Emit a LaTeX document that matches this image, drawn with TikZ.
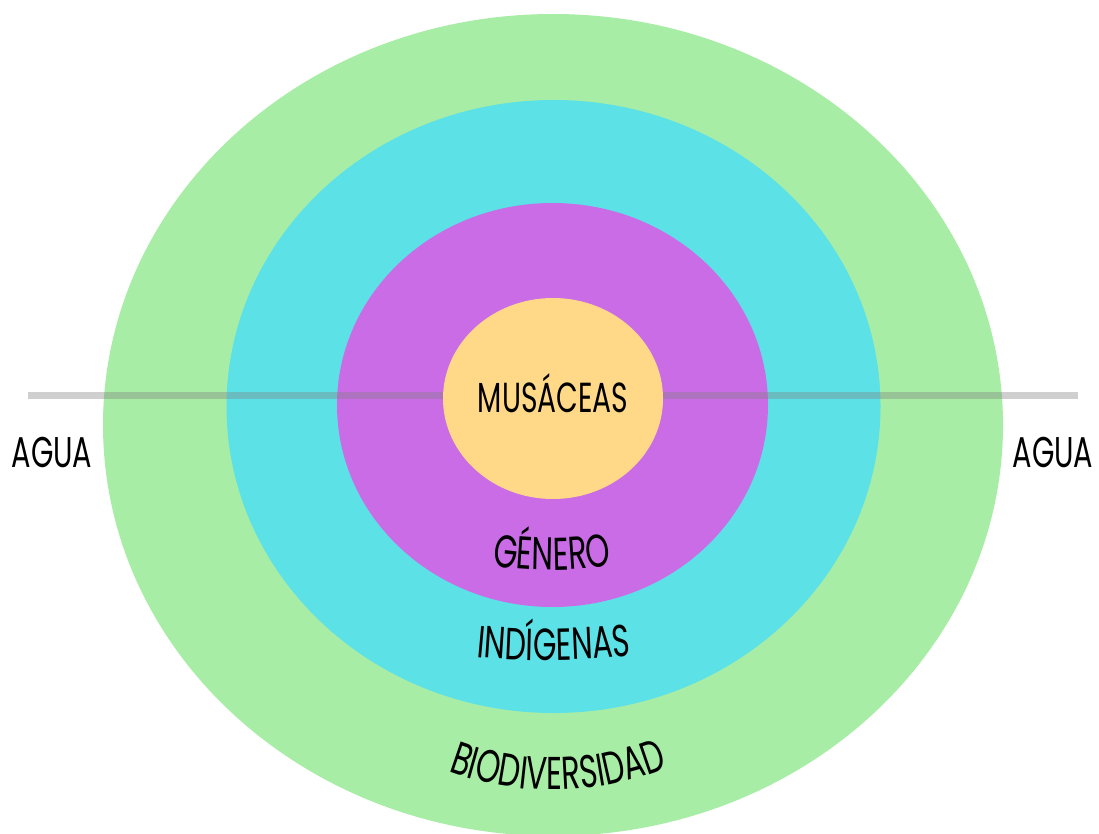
\documentclass[tikz,border=0pt]{standalone}
\usepackage{fontspec}
\usepackage{graphicx}
\newfontfamily\arcfont{Poppins}
\newcommand{\arcglyph}[2]{\scalebox{0.67}[1]{\arcfont\fontsize{#1}{#1}\selectfont #2}}
% letters chained one after another, each turned a little more:
% #1 name, #2 start point, #3 first angle, #4 step, #5 size, #6 letters
\newcommand{\arclabel}[6]{%
  \node[arcstart] (#1-0) at #2 {};
  \foreach \ch [count=\idx, remember=\idx as \prev (initially 0)] in {#6}{%
    \pgfmathsetmacro{\ang}{#3+(\idx-0.5)*#4}%
    \node[arcchar,rotate=\ang] (#1-\idx) at (#1-\prev.base east) {\arcglyph{#5}{\ch}};}%
}

\definecolor{ringgreen}{RGB}{168,237,165}
\definecolor{ringcyan}{RGB}{92,225,230}
\definecolor{ringpurple}{RGB}{201,108,230}
\definecolor{ringyellow}{RGB}{255,217,135}

\begin{document}
\begin{tikzpicture}[
  x=1pt,y=-1pt,
  lab/.style={inner sep=0pt,anchor=base},
  arcstart/.style={inner sep=0pt,outer sep=0pt,minimum size=0pt,anchor=base east},
  arcchar/.style={inner sep=0pt,outer sep=0pt,anchor=base west},
  waterline/.style={line width=7pt,draw=gray,draw opacity=0.38}
]
\useasboundingbox (0,0) rectangle (1099,834);
% rings
\fill[ringgreen]  (553,425) ellipse [x radius=450,y radius=411];
\fill[ringcyan]   (553.5,406.5) ellipse [x radius=327,y radius=306.5];
\fill[ringpurple] (552.5,405) ellipse [x radius=215.5,y radius=202];
% water line
\coordinate (wl) at (28,395);
\coordinate (wr) at (1078,395);
\draw[waterline] (wl) -- (wr);
\fill[ringyellow] (553,398.5) ellipse [x radius=110,y radius=100.5];
% labels
\node[lab] (musaceas) at (553,412) {\arcglyph{42}{MUSÁCEAS}};
\node[lab] (agual) at (52,467) {\arcglyph{43}{AGUA}};
\node[lab] (aguar) at (1053,467) {\arcglyph{43}{AGUA}};
\arclabel{genero}{(492,566)}{-7.87}{2.63}{46}{G,É,N,E,R,O}
\arclabel{indigenas}{(476,657)}{-5.9}{1.31}{45}{I,N,D,Í,G,E,N,A,S}
\arclabel{biodiv}{(448,771)}{-20.45}{3.15}{46}{B,I,O,D,I,V,E,R,S,I,D,A,D}
\end{tikzpicture}
\end{document}
